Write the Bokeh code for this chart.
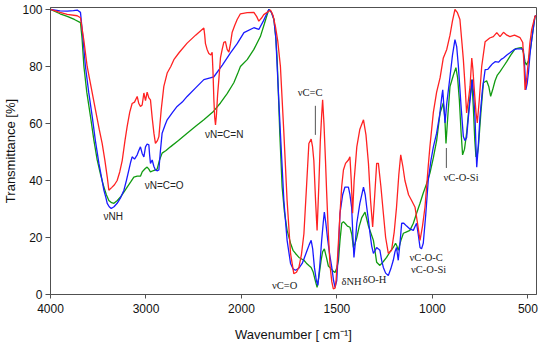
import numpy as np
from bokeh.plotting import figure
from bokeh.models import Range1d, FixedTicker, Label, ColumnDataSource
from bokeh.embed import file_html
from bokeh.resources import INLINE

# ---------------- data ----------------
red_wn = [4000, 3900, 3825, 3720, 3686, 3650, 3616, 3570, 3529, 3490, 3459, 3430, 3406, 3389, 3360, 3330,
          3302, 3275, 3249, 3220, 3197, 3170, 3145, 3120, 3092, 3075, 3058, 3040, 3022, 3005, 2988, 2970,
          2953, 2935, 2917, 2901, 2880, 2865, 2840, 2813, 2778, 2740, 2708, 2650, 2569, 2480, 2394, 2385,
          2377, 2360, 2342, 2320, 2307, 2298, 2289, 2280, 2272, 2262, 2250, 2237, 2220, 2202, 2185, 2168,
          2150, 2132, 2115, 2098, 2070, 2045, 2011, 1970, 1935, 1920, 1909, 1895, 1883, 1848, 1835, 1822,
          1810, 1796, 1778, 1761, 1743, 1726, 1712, 1699, 1686, 1673, 1660, 1647, 1635, 1628, 1621, 1612,
          1604, 1595, 1587, 1580, 1575, 1568, 1560, 1554, 1545, 1536, 1527, 1519, 1510, 1505, 1495, 1484,
          1475, 1466, 1455, 1440, 1432, 1425, 1418, 1410, 1396, 1380, 1361, 1348, 1335, 1324, 1313, 1302,
          1292, 1283, 1270, 1257, 1245, 1231, 1214, 1200, 1188, 1176, 1166, 1155, 1144, 1125, 1109, 1091,
          1078, 1065, 1052, 1039, 1022, 1013, 995, 978, 960, 943, 925, 908, 895, 882, 870, 856,
          845, 838, 828, 821, 812, 803, 794, 788, 782, 772, 765, 755, 742, 724, 700, 681,
          663, 646, 628, 610, 594, 570, 541, 527, 520, 515, 509, 503, 490, 480, 463, 454]
red_t = [100, 99, 98.3, 97.8, 97.1, 89, 80, 72, 64.8, 58, 53, 47, 41.3, 36.6, 37.5, 38.5,
         40, 43, 47, 54, 59, 64, 67, 67.5, 69.5, 67, 66, 66.5, 70.7, 68, 71, 69,
         68.3, 62, 56.6, 53, 54, 55.4, 65, 73, 77.7, 80, 82.4, 85, 88.2, 91, 93.5, 91,
         88, 86, 84.6, 84, 85, 78, 68.3, 62, 59.5, 63, 70, 75.4, 83, 86, 88.5, 88.7,
         86, 85, 88, 91.9, 94.5, 96.5, 98.5, 98.9, 99, 97.5, 95.9, 97, 98.2, 99.8, 98, 94,
         89, 80, 56.7, 33, 14.4, 7.3, 7.8, 9.6, 14, 21.3, 37, 53, 54.5, 52, 47, 33,
         22.5, 38, 54, 63, 68.3, 60, 47, 36, 21.3, 10, 4.5, 2.0, 2.2, 4.5, 15, 28.5,
         38, 43.7, 46, 47.2, 48.3, 40, 28.5, 40, 51.8, 58, 61.3, 56, 46, 33, 23.7, 35,
         46, 46, 38, 28.5, 20, 14.4, 15.5, 22, 30.6, 42, 49, 45, 40, 35, 33, 30.6,
         25, 19, 24, 30.6, 45, 52, 64, 71, 76, 83, 86, 91, 96, 100, 99, 96.5,
         88, 82.4, 72, 63.7, 68, 73, 83, 79, 73, 64, 60.2, 68, 80, 88.7, 90, 90.5,
         91.9, 90.5, 92, 91, 90.5, 91, 90.1, 88.4, 80, 71.8, 74, 78, 88, 93, 97.6, 98]

blue_wn = [4000, 3900, 3825, 3760, 3720, 3686, 3660, 3634, 3600, 3563, 3530, 3493, 3465, 3441, 3420, 3406,
           3385, 3364, 3335, 3302, 3265, 3231, 3205, 3179, 3160, 3145, 3120, 3092, 3075, 3058, 3040, 3022,
           3005, 2988, 2970, 2962, 2953, 2935, 2918, 2901, 2880, 2865, 2850, 2831, 2800, 2778, 2720, 2674,
           2620, 2569, 2480, 2394, 2289, 2200, 2115, 2045, 1987, 1935, 1909, 1885, 1857, 1843, 1830, 1820,
           1813, 1796, 1778, 1761, 1743, 1730, 1717, 1700, 1682, 1670, 1656, 1645, 1635, 1627, 1618, 1608,
           1600, 1590, 1580, 1572, 1566, 1558, 1548, 1538, 1527, 1518, 1510, 1501, 1492, 1484, 1470, 1458,
           1440, 1432, 1423, 1416, 1411, 1404, 1396, 1380, 1361, 1352, 1344, 1335, 1327, 1318, 1309, 1300,
           1292, 1283, 1275, 1266, 1257, 1245, 1231, 1218, 1205, 1196, 1188, 1179, 1170, 1161, 1150, 1135,
           1118, 1100, 1090, 1083, 1074, 1065, 1057, 1048, 1035, 1022, 1008, 995, 978, 962, 950, 946,
           940, 934, 925, 908, 895, 882, 873, 864, 850, 838, 830, 821, 812, 803, 791, 784,
           777, 772, 768, 760, 751, 738, 724, 710, 698, 685, 672, 654, 640, 628, 610, 594,
           575, 559, 535, 524, 517, 511, 504, 497, 488, 480, 463, 454]
blue_t = [100, 99.5, 99.4, 99.6, 99.8, 99, 90, 80, 71, 62.4, 54, 46, 41, 36.6, 34, 32,
          30.8, 30.2, 30.8, 32, 34, 36.6, 40, 43.7, 46.5, 48.3, 47.5, 49, 50.5, 51.8, 49.5, 48.3,
          51.8, 52.8, 52.5, 49, 46, 47.2, 45, 43.7, 43.4, 43.7, 50, 56.6, 59.5, 61.3, 64, 66,
          67.5, 69.5, 72.5, 75.4, 76.4, 80.5, 84.8, 88, 91.9, 93.6, 93, 96, 100, 99, 96.5, 90,
          80, 56.6, 33, 19, 10.9, 9, 8.5, 9.2, 10.9, 13, 15.5, 17.5, 19, 16, 9.5, 5,
          3.2, 10, 19, 25, 28.9, 25, 19, 14, 9.5, 5, 2.5, 4.9, 16, 28.5, 35, 37.7,
          37.7, 35, 30.6, 20, 13, 18, 25, 32, 37.7, 35, 30.6, 26, 21.5, 17, 14.4, 15.5,
          16.5, 16, 15.5, 12, 9.5, 7.5, 6.7, 9, 12, 15, 16.5, 12, 18, 25, 25, 24,
          23, 22.5, 24, 25, 21, 16.5, 16, 18, 28, 40, 47, 51.8, 56.6, 63, 70, 71.8,
          66, 60.2, 67, 76.4, 84, 89.4, 87, 80, 66, 55.4, 54, 55, 62, 68.3, 75.4, 70,
          62.3, 52, 44.7, 52, 62.3, 72, 78.9, 79, 80, 81, 81.7, 81.5, 82.5, 83, 84, 84.8,
          85.8, 86.2, 86.2, 86, 80, 71.8, 74, 78, 85, 89.4, 97.6, 98]

green_wn = [4000, 3900, 3825, 3750, 3686, 3670, 3650, 3620, 3581, 3545, 3511, 3475, 3441, 3415, 3389, 3360,
            3336, 3300, 3267, 3230, 3197, 3160, 3127, 3092, 3058, 3040, 3022, 3005, 2988, 2970, 2953, 2920,
            2883, 2860, 2831, 2790, 2744, 2660, 2569, 2480, 2394, 2300, 2220, 2150, 2080, 2040, 2011, 1970,
            1935, 1901, 1880, 1857, 1843, 1830, 1820, 1813, 1799, 1787, 1775, 1761, 1743, 1730, 1717, 1699,
            1673, 1660, 1647, 1635, 1625, 1612, 1604, 1595, 1583, 1575, 1566, 1555, 1545, 1530, 1519, 1510,
            1500, 1492, 1484, 1475, 1466, 1458, 1445, 1432, 1422, 1414, 1405, 1396, 1383, 1370, 1353, 1344,
            1335, 1322, 1309, 1300, 1292, 1275, 1258, 1240, 1222, 1205, 1193, 1186, 1179, 1165, 1152, 1135,
            1118, 1100, 1083, 1065, 1048, 1030, 1013, 995, 978, 960, 943, 935, 929, 920, 908, 890,
            877, 868, 859, 850, 842, 832, 821, 808, 794, 786, 778, 772, 765, 759, 746, 733,
            716, 705, 695, 684, 672, 660, 646, 628, 611, 590, 567, 545, 532, 524, 515, 508,
            497, 488, 480, 463, 454]
green_t = [100, 98.5, 97.6, 96.5, 95.4, 90, 80, 71, 62.4, 54, 47.2, 42, 37.7, 35, 33, 32.2,
           32, 33, 34.2, 36, 37.7, 39.5, 41.2, 41.5, 41.5, 43, 43.7, 44.3, 44.7, 44, 43, 43.5,
           44, 47, 49.6, 50.5, 51.8, 54, 56.6, 59, 61.3, 64, 67.2, 70.5, 74.3, 77.5, 80, 82.4,
           86, 90.5, 95, 100, 99, 96.5, 90, 82.4, 56, 37.7, 29, 22.5, 18, 15.5, 14.4, 13,
           12, 11, 10.2, 9.5, 8, 4.5, 2.5, 6, 12, 15, 16, 13, 10, 9, 8.2, 7.7,
           9.5, 12, 19, 25, 25.5, 25, 24, 23.6, 21, 16.5, 18, 20, 24, 27, 28.9, 26.5,
           24, 21.5, 19, 15, 11.3, 10.2, 11.5, 13, 15, 16.5, 18, 17, 15.5, 19, 21.5, 22,
           22.5, 25, 28.5, 32, 35.6, 39, 42.6, 48, 54, 63.7, 67.2, 62, 53, 62, 73, 77,
           79.6, 76, 68.3, 57, 49, 51, 56.6, 66, 75.4, 66, 54, 48.3, 49, 52, 64, 74.3,
           75, 73, 69.5, 72, 75, 77, 78.2, 80, 81.7, 84, 86.2, 86.5, 86.6, 85, 81.7, 80.5,
           82, 85.5, 89.4, 97.6, 98]

x_tick_wn = [4000, 3000, 2000, 1500, 1000, 500]
y_ticks = [0, 20, 40, 60, 80, 100]

# band assignments: (wavenumber, transmittance, text)
sans_labels = [(3344, 27.5, "νNH"), (2810, 38.2, "νN=C=O"), (2181, 56.0, "νN=C=N")]
serif_labels = [(1640, 70.8, "νC=C"), (1774, 3.2, "νC=O"), (1423, 4.4, "δNH"),
                (1303, 5.3, "δO-H"), (1033, 13.0, "νC-O-C"), (1020, 8.8, "νC-O-Si"),
                (850, 41.0, "νC-O-Si")]
marker_lines = [(1613, 56.0, 66.2), (927, 44.4, 51.4)]


# the spectrometer's axis changes scale at 2000 cm-1 (below 2000 it is expanded x2)
def to_axis(w):
    w = np.asarray(w, dtype=float)
    return np.where(w >= 2000, (4000.0 - w) / 2.0, 1000.0 + (2000.0 - w))


p = figure(frame_width=486, frame_height=287, output_backend="svg", toolbar_location=None,
           x_range=Range1d(0, 2545), y_range=Range1d(0, 100.7),
           min_border_left=45, min_border_right=3, min_border_top=7, min_border_bottom=40)
p.background_fill_color = "white"
p.border_fill_color = "white"
p.grid.visible = False
p.outline_line_color = "#505050"
p.outline_line_width = 1

tick_pos = [int(v) for v in to_axis(x_tick_wn)]
p.xaxis.ticker = FixedTicker(ticks=tick_pos)
p.xaxis.major_label_overrides = {tp: str(w) for tp, w in zip(tick_pos, x_tick_wn)}
p.yaxis.ticker = FixedTicker(ticks=y_ticks)

for ax in (p.xaxis[0], p.yaxis[0]):
    ax.axis_line_color = "#505050"
    ax.major_tick_line_color = "#505050"
    ax.major_tick_out = 5
    ax.major_tick_in = 0
    ax.minor_tick_line_color = None
    ax.major_label_text_font = "Liberation Sans"
    ax.major_label_text_font_size = "12px"
    ax.major_label_text_color = "#111111"
    ax.axis_label_text_font = "Liberation Sans"
    ax.axis_label_text_font_size = "13px"
    ax.axis_label_text_font_style = "normal"
    ax.axis_label_text_color = "#111111"

p.xaxis.axis_label = "Wavenumber [ cm⁻¹]"
p.xaxis.major_label_standoff = 5
p.xaxis.axis_label_standoff = 11
p.xaxis.major_tick_out = 4
p.yaxis.axis_label = "Transmittance [%]"
p.yaxis.major_label_standoff = 3
p.yaxis.axis_label_standoff = 1

series = [(green_wn, green_t, "#119b11"), (blue_wn, blue_t, "#1a1aff"), (red_wn, red_t, "#ff2222")]
for wn, t, col in series:
    src = ColumnDataSource(dict(x=to_axis(wn), y=t))
    p.line("x", "y", source=src, line_color=col, line_width=1.3)

for w, y0, y1 in marker_lines:
    xx = float(to_axis([w])[0])
    p.segment(x0=[xx], y0=[y0], x1=[xx], y1=[y1], line_color="#555555", line_width=1)

for w, t, s in sans_labels:
    p.add_layout(Label(x=float(to_axis([w])[0]), y=t, text=s, text_font="Liberation Sans",
                       text_font_size="10px", text_color="#222222",
                       text_align="center", text_baseline="middle"))
for w, t, s in serif_labels:
    p.add_layout(Label(x=float(to_axis([w])[0]), y=t, text=s, text_font="Liberation Serif",
                       text_font_size="10.5px", text_color="#222222",
                       text_align="center", text_baseline="middle"))

open("out.html", "w").write(file_html(p, INLINE))
